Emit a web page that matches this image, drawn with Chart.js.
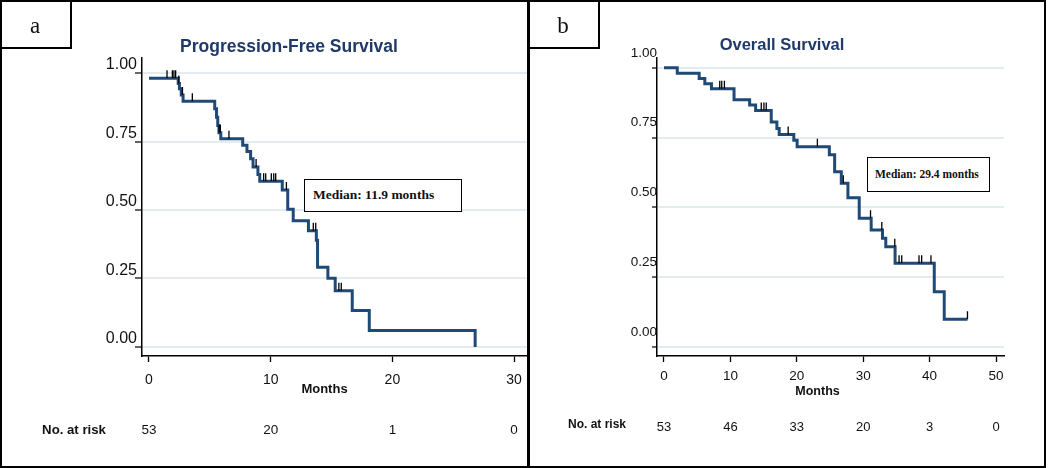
<!DOCTYPE html>
<html>
<head>
<meta charset="utf-8">
<script src="https://cdn.jsdelivr.net/npm/chart.js@4.4.1/dist/chart.umd.min.js"></script>
<style>
  body { margin: 0; background: #fff; }
  #wrap { position: relative; width: 1050px; height: 468px; overflow: hidden; background: #fff; }
  canvas { position: absolute; top: 0; }
  #pfs { left: 0; }
  #os { left: 528px; }
  .frame { position: absolute; left: 0; top: 0; width: 1046px; height: 468px; box-sizing: border-box; border: 2.5px solid #000; }
  .divider { position: absolute; left: 527px; top: 0; width: 3px; height: 468px; background: #000; }
  .tag { position: absolute; top: 0; width: 72px; height: 49px; box-sizing: border-box; border-right: 2px solid #000; border-bottom: 2px solid #000;
         text-align: center; font: 23px/51px 'Liberation Serif', 'Times New Roman', serif; color: #111; overflow: hidden; }
  .median { position: absolute; box-sizing: border-box; border: 1.5px solid #000; background: #fff; color: #111;
            font-family: 'Liberation Serif', 'Times New Roman', serif; font-weight: bold; white-space: nowrap; }
  #medA { left: 304px; top: 179px; width: 158px; height: 33px; padding-left: 8px; line-height: 30px; font-size: 13.5px; }
  #medB { left: 867px; top: 157px; width: 123px; height: 35px; padding-left: 7px; line-height: 32px; font-size: 11.5px; }
</style>
</head>
<body>
<div id="wrap">
  <canvas id="pfs" width="528" height="468"></canvas>
  <canvas id="os" width="522" height="468"></canvas>
  <div class="frame"></div>
  <div class="divider"></div>
  <div class="tag" style="left:0">a</div>
  <div class="tag" style="left:528px">b</div>
  <div class="median" id="medA">Median: 11.9 months</div>
  <div class="median" id="medB">Median: 29.4 months</div>
</div>
<script>
// Kaplan-Meier steps (months, survival after the drop)
const pfsTimes = [0, 2.4, 2.5, 2.65, 2.8, 5.4, 5.55, 5.65, 5.75, 5.9, 7.7, 8.05, 8.35, 8.55, 8.95, 9.1,
                  10.95, 11.4, 11.85, 13.1, 13.75, 13.85, 14.7, 15.3, 16.7, 18.1, 26.8];
const pfsSurv  = [0.981, 0.962, 0.943, 0.92, 0.897, 0.87, 0.839, 0.809, 0.782, 0.76, 0.736, 0.714, 0.687, 0.657, 0.63, 0.605,
                  0.573, 0.503, 0.461, 0.424, 0.39, 0.291, 0.251, 0.205, 0.133, 0.06, 0];
// censored observations (tick marks)
const pfsCensorTimes = [1.48, 1.92, 2.05, 2.19, 2.45, 2.75, 3.56, 5.76, 5.86, 6.57, 8.8, 9.42, 9.59, 10.05, 10.25, 10.41,
                        11.29, 13.5, 13.7, 15.6, 15.8];
const pfsCensorSurv  = [0.981, 0.981, 0.981, 0.981, 0.962, 0.92, 0.897, 0.782, 0.782, 0.76, 0.657, 0.605, 0.605, 0.605, 0.605, 0.605,
                        0.573, 0.424, 0.424, 0.205, 0.205];
const pfsTicks  = [0, 10, 20, 30];
const pfsAtRisk = [53, 20, 1, 0];

const osTimes = [0, 2.0, 5.3, 6.15, 7.15, 10.55, 12.9, 13.8, 16.15, 17.0, 17.35, 19.55, 20.05, 24.9, 25.7, 26.7, 27.7,
                 29.4, 31.2, 32.9, 33.4, 34.8, 40.7, 42.2, 45.7];
const osSurv  = [1, 0.981, 0.962, 0.943, 0.925, 0.886, 0.867, 0.847, 0.806, 0.783, 0.761, 0.741, 0.717, 0.689, 0.628, 0.587, 0.535,
                 0.461, 0.419, 0.39, 0.359, 0.3, 0.198, 0.1, 0.1];
const osCensorTimes = [8.4, 8.7, 9.1, 14.65, 15.05, 15.4, 18.7, 23.1, 27.0, 31.1, 32.8, 34.75, 35.4, 35.8, 38.4, 38.8, 40.2, 45.7];
const osCensorSurv  = [0.925, 0.925, 0.925, 0.847, 0.847, 0.847, 0.761, 0.717, 0.587, 0.461, 0.419, 0.359, 0.3, 0.3, 0.3, 0.3, 0.3, 0.1];
const osTicks  = [0, 10, 20, 30, 40, 50];
const osAtRisk = [53, 46, 33, 20, 3, 0];

const survTicks = [0, 0.25, 0.5, 0.75, 1];

const SANS = "'Liberation Sans', Arial, sans-serif";
const navy = '#1f4a78';
const gridCol = '#e3ecf0';

Chart.defaults.font.family = SANS;
Chart.defaults.color = '#111';

// draws the "Months" caption and the "No. at risk" row under the x axis
function atRiskRow(times, counts, o) {
    return {
        id: 'atRisk',
        afterDraw(chart) {
            const x = chart.scales.x;
            const area = chart.chartArea;
            const ctx = chart.ctx;
            ctx.save();
            ctx.fillStyle = '#111';
            ctx.textBaseline = 'middle';
            ctx.textAlign = 'center';
            ctx.font = 'bold ' + o.monthsSize + 'px ' + SANS;
            ctx.fillText('Months', (area.left + area.right) / 2 + o.monthsShift, o.monthsY);
            ctx.font = 'bold ' + o.labelSize + 'px ' + SANS;
            ctx.fillText('No. at risk', o.labelX, o.labelY);
            ctx.font = o.size + 'px ' + SANS;
            times.forEach((t, i) => {
                ctx.fillText(String(counts[i]), x.getPixelForValue(t), o.y);
            });
            ctx.restore();
        }
    };
}

function kmChart(id, c) {
    const curve = c.times.map((t, i) => ({ x: t, y: c.surv[i] }));
    const cens = c.censT.map((t, i) => ({ x: t, y: c.censS[i] }));
    return new Chart(document.getElementById(id), {
        type: 'line',
        data: {
            datasets: [{
                data: cens,
                showLine: false,
                pointStyle: 'dash',
                pointRotation: -90,
                pointRadius: 8,
                pointBorderWidth: 1.3,
                pointBorderColor: '#000',
                pointBackgroundColor: '#000'
            }, {
                data: curve,
                stepped: true,
                borderColor: navy,
                borderWidth: 3,
                pointRadius: 0,
                fill: false
            }]
        },
        options: {
            responsive: false,
            animation: false,
            devicePixelRatio: 1,
            events: [],
            layout: { padding: c.padding, autoPadding: false },
            plugins: {
                legend: { display: false },
                tooltip: { enabled: false },
                title: {
                    display: true,
                    text: c.title,
                    color: '#1f3a68',
                    font: { size: c.titleSize, weight: 'bold' },
                    padding: c.titlePad
                }
            },
            scales: {
                x: {
                    type: 'linear',
                    min: c.xMin, max: c.xMax,
                    afterBuildTicks: s => { s.ticks = c.xTicks.map(v => ({ value: v })); },
                    afterFit: s => { s.height = c.xHeight; s.paddingLeft = 0; s.paddingRight = 0; },
                    ticks: { font: { size: c.xTickSize }, padding: c.xTickPad, color: '#111' },
                    grid: { drawOnChartArea: false, tickLength: 6, tickColor: '#000', tickWidth: 1.3 },
                    border: { color: '#000', width: 1.5 }
                },
                y: {
                    min: c.yMin, max: c.yMax,
                    afterBuildTicks: s => { s.ticks = survTicks.map(v => ({ value: v })); },
                    afterFit: s => { s.width = c.yWidth; s.paddingTop = 0; s.paddingBottom = 0; },
                    ticks: {
                        callback: v => v.toFixed(2),
                        font: { size: c.yTickSize },
                        padding: c.yTickPad,
                        labelOffset: c.yLabelOffset,
                        color: '#111'
                    },
                    grid: { color: gridCol, lineWidth: 2, tickColor: '#000', tickLength: c.yTickLen, tickWidth: 1.2 },
                    border: { color: '#000', width: 1.5 }
                }
            }
        },
        plugins: [atRiskRow(c.xTicks, c.atRisk, c.risk)]
    });
}

kmChart('pfs', {
    times: pfsTimes, surv: pfsSurv, censT: pfsCensorTimes, censS: pfsCensorSurv,
    xTicks: pfsTicks, atRisk: pfsAtRisk,
    title: 'Progression-Free Survival', titleSize: 17.5, titlePad: { top: 37, bottom: 0 },
    padding: { left: 51, right: 1, top: 0, bottom: 71 },
    xMin: -0.575, xMax: 31.06, yMin: -0.033, yMax: 1.055,
    xHeight: 41, yWidth: 91,
    xTickSize: 14, xTickPad: 9.5, yTickSize: 16, yTickPad: -2, yTickLen: 7, yLabelOffset: -8,
    risk: { size: 13.5, labelSize: 13.2, labelX: 74, labelY: 430, y: 430,
            monthsSize: 13, monthsShift: -10, monthsY: 389 }
});

kmChart('os', {
    times: osTimes, surv: osSurv, censT: osCensorTimes, censS: osCensorSurv,
    xTicks: osTicks, atRisk: osAtRisk,
    title: 'Overall Survival', titleSize: 16.5, titlePad: { top: 36, bottom: 2 },
    padding: { left: 32, right: 46, top: 0, bottom: 68 },
    xMin: -1.05, xMax: 51.2, yMin: -0.032, yMax: 1.036,
    xHeight: 44, yWidth: 97,
    xTickSize: 13.5, xTickPad: 6, yTickSize: 13.5, yTickPad: -5, yTickLen: 5, yLabelOffset: -15,
    risk: { size: 13, labelSize: 12, labelX: 69, labelY: 425, y: 427,
            monthsSize: 12.5, monthsShift: -13, monthsY: 392 }
});
</script>
</body>
</html>
